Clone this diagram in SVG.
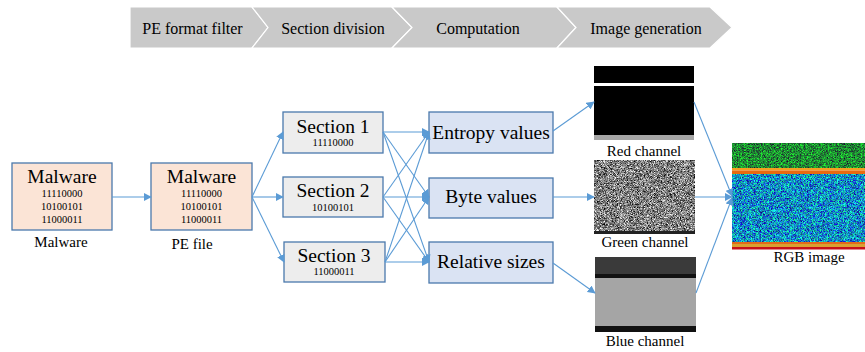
<svg xmlns="http://www.w3.org/2000/svg" width="865" height="352" viewBox="0 0 865 352" font-family="'Liberation Serif','Times New Roman','DejaVu Serif',serif">
<style>
text{font-family:"Liberation Serif","Times New Roman","DejaVu Serif",serif;fill:#000}
.hdr{font-size:16px;text-anchor:middle}
.chev{fill:#C9C9C9;stroke:#fff;stroke-width:1.2}
.big{font-size:19.5px;text-anchor:middle}
.bin{font-size:10.5px;text-anchor:middle}
.lbl{font-size:15px;text-anchor:middle}
.mal{fill:#FBE4D6;stroke:#4A79AC;stroke-width:1.3}
.sec{fill:#EDEDED;stroke:#4A79AC;stroke-width:1.3}
.cmp{fill:#DAE3F3;stroke:#4A79AC;stroke-width:1.3}
.con line{stroke:#5B9BD5;stroke-width:1.1;fill:none;marker-end:url(#ah)}
</style>
<defs>
<marker id="ah" viewBox="0 0 10 10" refX="9" refY="5" markerWidth="8" markerHeight="8" markerUnits="userSpaceOnUse" orient="auto">
<path d="M0,0 L10,5 L0,10 Z" fill="#5B9BD5"/>
</marker>
<filter id="gnoise" x="0" y="0" width="100%" height="100%" color-interpolation-filters="sRGB">
<feTurbulence type="fractalNoise" baseFrequency="2.7" numOctaves="1" seed="3"/>
<feColorMatrix type="matrix" values="1.9 0 0 0 -0.45  1.9 0 0 0 -0.45  1.9 0 0 0 -0.45  0 0 0 0 1"/>
<feComposite in2="SourceGraphic" operator="in"/>
</filter>
<filter id="cnoise" x="0" y="0" width="100%" height="100%" color-interpolation-filters="sRGB">
<feTurbulence type="fractalNoise" baseFrequency="2.7" numOctaves="1" seed="11"/>
<feColorMatrix type="matrix" values="0 0 0 0 0.08  0 2.4 0 0 -0.65  0 0 1.2 0 0.15  0 0 0 0 1"/>
<feComposite in2="SourceGraphic" operator="in"/>
</filter>
<filter id="dgnoise" x="0" y="0" width="100%" height="100%" color-interpolation-filters="sRGB">
<feTurbulence type="fractalNoise" baseFrequency="2.7" numOctaves="1" seed="5"/>
<feColorMatrix type="matrix" values="0 0 0 0 0.12  0 1.9 0 0 -0.4  0 0 0 0 0.2  0 0 0 0 1"/>
<feComposite in2="SourceGraphic" operator="in"/>
</filter>
</defs>
<rect width="865" height="352" fill="#fff"/>

<g id="header">
<path class="chev" d="M130,7 L252,7 L268,27.5 L252,48 L130,48 Z"/>
<path class="chev" d="M252,7 L392,7 L412,27.5 L392,48 L252,48 L268,27.5 Z"/>
<path class="chev" d="M392,7 L557,7 L576,27.5 L557,48 L392,48 L412,27.5 Z"/>
<path class="chev" d="M557,7 L710,7 L732,27.5 L710,48 L557,48 L576,27.5 Z"/>
<text class="hdr" x="192.5" y="34">PE format filter</text>
<text class="hdr" x="333" y="34">Section division</text>
<text class="hdr" x="478" y="34">Computation</text>
<text class="hdr" x="646" y="34">Image generation</text>
</g>

<g id="malware">
<rect class="mal" x="12" y="163" width="100" height="67"/>
<text class="big" x="62" y="183">Malware</text>
<text class="bin" x="62" y="197">11110000</text>
<text class="bin" x="62" y="210">10100101</text>
<text class="bin" x="62" y="223">11000011</text>
<text class="lbl" x="61" y="247">Malware</text>
</g>

<g id="pefile">
<rect class="mal" x="151" y="163" width="101" height="67"/>
<text class="big" x="201.5" y="183">Malware</text>
<text class="bin" x="201.5" y="197">11110000</text>
<text class="bin" x="201.5" y="210">10100101</text>
<text class="bin" x="201.5" y="223">11000011</text>
<text class="lbl" x="192" y="249">PE file</text>
</g>

<g id="section1">
<rect class="sec" x="283" y="112" width="100" height="41"/>
<text class="big" x="333" y="133">Section 1</text>
<text class="bin" x="333" y="146">11110000</text>
</g>
<g id="section2">
<rect class="sec" x="283" y="177" width="100" height="40"/>
<text class="big" x="333" y="197">Section 2</text>
<text class="bin" x="333" y="211">10100101</text>
</g>
<g id="section3">
<rect class="sec" x="284" y="242" width="101" height="40"/>
<text class="big" x="334" y="262">Section 3</text>
<text class="bin" x="334" y="275">11000011</text>
</g>

<g id="entropy">
<rect class="cmp" x="429" y="112" width="124" height="41"/>
<text class="big" x="491" y="139">Entropy values</text>
</g>
<g id="byte">
<rect class="cmp" x="429" y="178" width="124" height="40"/>
<text class="big" x="491" y="203">Byte values</text>
</g>
<g id="relative">
<rect class="cmp" x="429" y="242" width="124" height="41"/>
<text class="big" x="491" y="268">Relative sizes</text>
</g>

<g id="red">
<rect x="594" y="66" width="100" height="17" fill="#000"/>
<rect x="594" y="86" width="100" height="49" fill="#000"/>
<rect x="594" y="135" width="100" height="5" fill="#A6A6A6"/>
<text class="lbl" x="644" y="156">Red channel</text>
</g>

<g id="green">
<rect x="594" y="160" width="101" height="74" fill="#777" filter="url(#gnoise)"/>
<rect x="594" y="231" width="101" height="3" fill="#222"/>
<text class="lbl" x="645" y="247">Green channel</text>
</g>

<g id="blue">
<rect x="595" y="257" width="101" height="17" fill="#3A3A3A"/>
<rect x="595" y="274" width="101" height="4" fill="#111"/>
<rect x="595" y="278" width="101" height="48" fill="#A5A5A5"/>
<rect x="595" y="326" width="101" height="6" fill="#111"/>
<text class="lbl" x="645" y="346">Blue channel</text>
</g>

<g id="rgb">
<rect x="732" y="143" width="133" height="25" fill="#1E8A3A" filter="url(#dgnoise)"/>
<rect x="732" y="168" width="133" height="2.5" fill="#F2A020"/>
<rect x="732" y="170.5" width="133" height="3.5" fill="#E86A10"/>
<rect x="732" y="174" width="133" height="68" fill="#1F6FB8" filter="url(#cnoise)"/>
<rect x="732" y="242" width="133" height="2" fill="#E26A18"/>
<rect x="732" y="244" width="133" height="3" fill="#D9A030"/>
<rect x="732" y="247" width="133" height="2.5" fill="#C8101A"/>
<text class="lbl" x="809" y="262">RGB image</text>
</g>

<g id="connectors" class="con">
<line x1="112" y1="197" x2="151" y2="197"/>
<line x1="252" y1="197" x2="283" y2="132"/>
<line x1="252" y1="197" x2="283" y2="197"/>
<line x1="252" y1="197" x2="284" y2="262"/>
<line x1="383" y1="132" x2="429" y2="132"/>
<line x1="383" y1="132" x2="429" y2="197"/>
<line x1="383" y1="132" x2="429" y2="262"/>
<line x1="383" y1="197" x2="429" y2="132"/>
<line x1="383" y1="197" x2="429" y2="197"/>
<line x1="383" y1="197" x2="429" y2="262"/>
<line x1="385" y1="262" x2="429" y2="132"/>
<line x1="385" y1="262" x2="429" y2="197"/>
<line x1="385" y1="262" x2="429" y2="262"/>
<line x1="553" y1="131" x2="594" y2="102"/>
<line x1="553" y1="197" x2="594" y2="197"/>
<line x1="553" y1="263" x2="595" y2="293"/>
<line x1="694" y1="102" x2="732" y2="196"/>
<line x1="695" y1="197" x2="732" y2="197"/>
<line x1="696" y1="293" x2="732" y2="198"/>
</g>
</svg>
